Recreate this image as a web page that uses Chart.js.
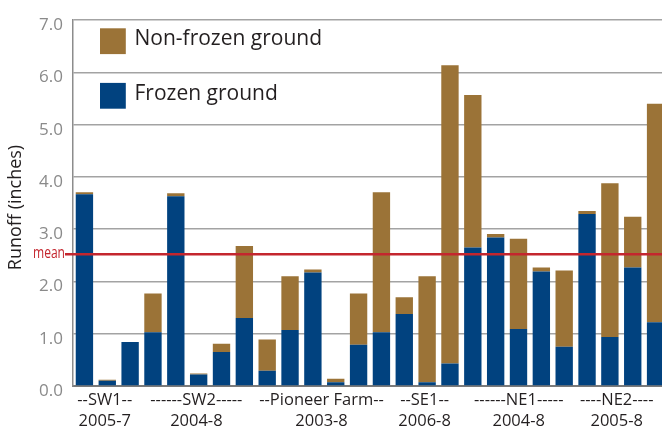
<!DOCTYPE html>
<html>
<head>
<meta charset="utf-8">
<script src="https://cdn.jsdelivr.net/npm/chart.js@4"></script>
<style>
  html, body { margin: 0; padding: 0; background: #ffffff; overflow: hidden; }
  #wrap { position: relative; width: 667px; height: 428px; }
</style>
</head>
<body>
<div id="wrap"><canvas id="runoff"></canvas></div>
<script>
// Runoff events, one bar each, grouped by site
const categories = [
  'SW1 a', 'SW1 b', 'SW1 c', 'SW1 d',
  'SW2 a', 'SW2 b', 'SW2 c', 'SW2 d',
  'PF a', 'PF b', 'PF c', 'PF d', 'PF e', 'PF f',
  'SE1 a', 'SE1 b', 'SE1 c', 'SE1 d',
  'NE1 a', 'NE1 b', 'NE1 c', 'NE1 d',
  'NE2 a', 'NE2 b', 'NE2 c', 'NE2 d'
];

// Runoff (inches) on frozen ground
const frozenGround = [
  3.67, 0.10, 0.84, 1.03,
  3.63, 0.22, 0.65, 1.30,
  0.29, 1.07, 2.17, 0.07, 0.79, 1.03,
  1.38, 0.07, 0.43, 2.65,
  2.84, 1.09, 2.19, 0.75,
  3.29, 0.94, 2.27, 1.22
];

// Runoff (inches) on non-frozen ground
const nonFrozenGround = [
  0.04, 0.02, 0.00, 0.74,
  0.06, 0.02, 0.16, 1.38,
  0.60, 1.03, 0.06, 0.07, 0.98, 2.68,
  0.32, 2.03, 5.71, 2.92,
  0.07, 1.73, 0.08, 1.46,
  0.06, 2.94, 0.97, 4.18
];

const meanRunoff = 2.52;

// Site / sampling period labels under the bars, anchored at a category-axis value
const siteLabels  = ['--SW1--', '------SW2-----', '--Pioneer Farm--', '--SE1--', '------NE1-----', '----NE2----'];
const periodLabels = ['2005-7', '2004-8', '2003-8', '2006-8', '2004-8', '2005-8'];
const labelAt = [0.89, 4.9, 10.38, 14.89, 19.01, 23.3];

const yTicks = [0, 1, 2, 3, 4, 5, 6, 7];

const BLUE = '#01427f';
const BROWN = '#9b7337';
const TEXT = '#231f20';
const FONT = '"Open Sans", "Noto Sans", sans-serif';

const decor = {
  id: 'decor',
  afterDatasetsDraw(chart) {
    const { ctx, chartArea, scales } = chart;
    const y = scales.y;

    // mean line with its condensed label
    const my = y.getPixelForValue(meanRunoff);
    ctx.save();
    ctx.strokeStyle = '#c4262e';
    ctx.lineWidth = 2.5;
    ctx.beginPath();
    ctx.moveTo(65, my);
    ctx.lineTo(chartArea.right, my);
    ctx.stroke();
    ctx.fillStyle = '#c4262e';
    ctx.font = '17px ' + FONT;
    ctx.textBaseline = 'middle';
    ctx.textAlign = 'right';
    const w = ctx.measureText('mean').width;
    const target = 32;
    ctx.translate(65, my - 1.5);
    if (w > target) ctx.scale(target / w, 1);
    ctx.fillText('mean', 0, 0);
    ctx.restore();
  },
  afterDraw(chart) {
    const { ctx, chartArea, scales } = chart;
    const x = scales.x;
    ctx.save();

    // legend inside the plot
    const entries = [
      { text: 'Non-frozen ground', color: BROWN },
      { text: 'Frozen ground', color: BLUE }
    ];
    ctx.font = '21px ' + FONT;
    ctx.textAlign = 'left';
    ctx.textBaseline = 'alphabetic';
    entries.forEach((e, i) => {
      const top = 28.3 + i * 54.6;
      ctx.fillStyle = e.color;
      ctx.fillRect(100, top, 25.8, 25.8);
      ctx.fillStyle = TEXT;
      ctx.fillText(e.text, 134.5, top + 16.8);
    });

    // y axis title
    ctx.save();
    ctx.translate(16, 207.5);
    ctx.rotate(-Math.PI / 2);
    ctx.font = '18px ' + FONT;
    ctx.fillStyle = TEXT;
    ctx.textAlign = 'center';
    ctx.textBaseline = 'middle';
    ctx.fillText('Runoff (inches)', 0, 0);
    ctx.restore();

    // site and period labels
    ctx.font = '16.5px ' + FONT;
    ctx.fillStyle = TEXT;
    ctx.textAlign = 'center';
    ctx.textBaseline = 'alphabetic';
    siteLabels.forEach((s, i) => {
      const px = x.getPixelForValue(labelAt[i]);
      ctx.fillText(s, px, chartArea.bottom + 19);
      ctx.fillText(periodLabels[i], px, chartArea.bottom + 39.5);
    });
    ctx.restore();
  }
};

new Chart(document.getElementById('runoff'), {
  type: 'bar',
  data: {
    labels: categories,
    datasets: [
      { label: 'Frozen ground', data: frozenGround, backgroundColor: BLUE },
      { label: 'Non-frozen ground', data: nonFrozenGround, backgroundColor: BROWN }
    ]
  },
  options: {
    responsive: true,
    maintainAspectRatio: false,
    animation: false,
    devicePixelRatio: 1,
    layout: { padding: { top: 16.4, right: 0, bottom: 0, left: 0 } },
    datasets: { bar: { barPercentage: 0.76, categoryPercentage: 1.0, borderWidth: 0 } },
    plugins: { legend: { display: false }, tooltip: { enabled: false }, title: { display: false } },
    scales: {
      x: {
        stacked: true,
        grid: { display: false, drawTicks: false },
        border: { display: true, color: '#7a7a7a', width: 2 },
        ticks: { display: false },
        afterFit(scale) { scale.height = 42; }
      },
      y: {
        stacked: true,
        min: 0,
        max: 7,
        afterBuildTicks(scale) { scale.ticks = yTicks.map(v => ({ value: v })); },
        afterFit(scale) { scale.width = 73; },
        grid: { color: '#a3a3a3', lineWidth: 1.5, drawTicks: false },
        border: { display: true, color: '#8c8c8c', width: 1.5 },
        ticks: {
          color: '#8a8a8a',
          font: { family: FONT, size: 17 },
          padding: 10,
          labelOffset: 5,
          callback: v => Number(v).toFixed(1)
        }
      }
    }
  },
  plugins: [decor]
});
</script>
</body>
</html>
